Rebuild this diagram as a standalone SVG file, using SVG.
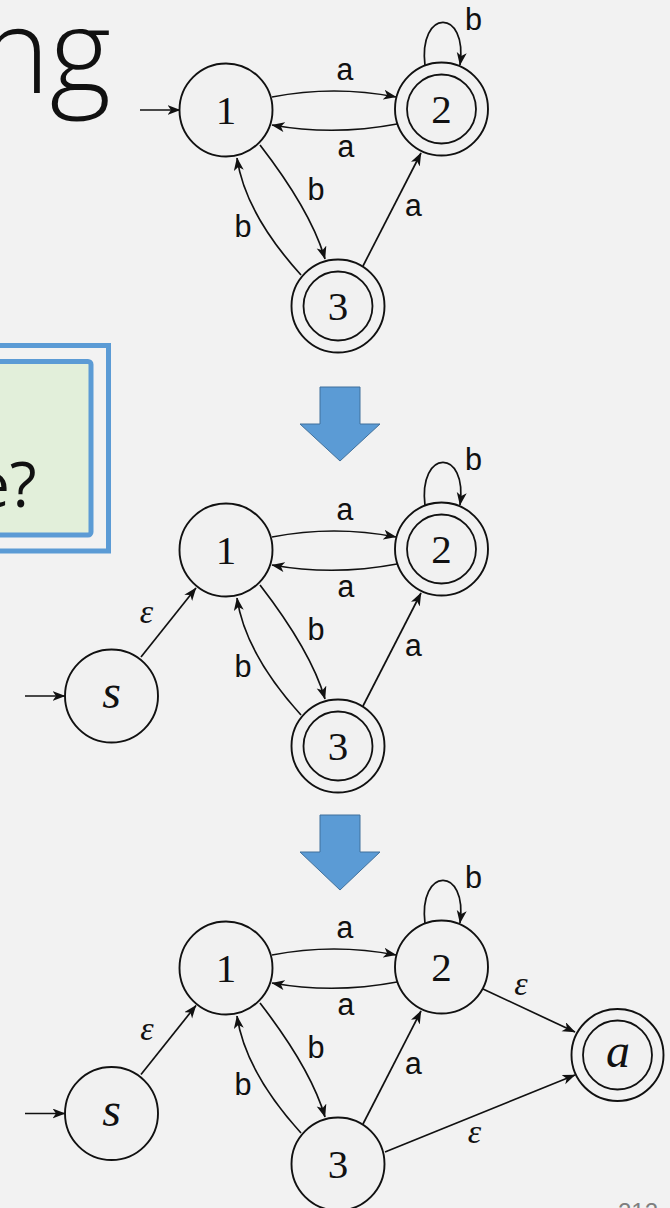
<svg xmlns="http://www.w3.org/2000/svg" width="670" height="1208" viewBox="0 0 670 1208">
<defs>
<style>
.st{fill:#f1f1f1;stroke:#111;stroke-width:1.9}
.in{fill:none;stroke:#111;stroke-width:1.8}
.e{fill:none;stroke:#111;stroke-width:1.7;marker-end:url(#ah)}
.num{font-family:"Liberation Serif",serif;font-size:41px;fill:#111;text-anchor:middle}
.var{font-family:"Liberation Serif",serif;font-style:italic;font-size:48px;fill:#111;text-anchor:middle}
.lb{font-family:"Liberation Mono",monospace;font-size:31px;fill:#111;text-anchor:middle}
.ep{font-family:"Liberation Serif",serif;font-style:italic;font-size:34px;fill:#111;text-anchor:middle}
.big{fill:#5b9bd5;stroke:#41719c;stroke-width:1}
</style>
<marker id="ah" markerUnits="userSpaceOnUse" markerWidth="14" markerHeight="11" refX="12.5" refY="5" orient="auto">
<path d="M0,0 L13,5 L0,10 L3.5,5 Z" fill="#111"/>
</marker>
</defs>
<rect width="670" height="1208" fill="#f2f2f2"/>
<text x="111" y="93" font-family="'Open Sans',sans-serif" font-weight="300" font-size="118" text-anchor="end" fill="#111">ng</text>
<g id="box">
<rect x="-10" y="345.5" width="118.5" height="205.5" fill="none" stroke="#5b9bd5" stroke-width="5"/>
<rect x="-10" y="361.5" width="101" height="173.5" rx="3" fill="#e2efda" stroke="#5b9bd5" stroke-width="5"/>
<text x="-25" y="507" font-family="'Open Sans',sans-serif" font-size="62" fill="#111">e?</text>
</g>
<g id="arrow1"><path class="big" d="M320,387 L360,387 L360,424 L380,424 L340,461 L300,424 L320,424 Z"/></g>
<g id="arrow2"><path class="big" d="M320,815 L360,815 L360,852 L380,852 L340,890 L300,852 L320,852 Z"/></g>

<g id="connectors">
<path class="e" d="M140,110 L180,110"/>
<path class="e" d="M272,97 Q334,85 396,97"/>
<path class="e" d="M397,124 Q334,136 272,125"/>
<path class="e" d="M425,66 C418,8 468,8 460,65"/>
<path class="e" d="M260,145 Q311,211 325,259"/>
<path class="e" d="M301,275 Q245,213 237,158"/>
<path class="e" d="M363,266 L421,153"/>
<path class="e" d="M25,696 L65,696"/>
<path class="e" d="M141,657 L196,588"/>
<path class="e" d="M272,537 Q334,525 396,537"/>
<path class="e" d="M397,564 Q334,576 272,565"/>
<path class="e" d="M425,506 C418,448 468,448 460,505"/>
<path class="e" d="M260,585 Q311,651 325,699"/>
<path class="e" d="M301,715 Q245,653 237,598"/>
<path class="e" d="M363,706 L421,593"/>
<path class="e" d="M25,1113.5 L65,1113.5"/>
<path class="e" d="M141,1074.5 L196,1005.5"/>
<path class="e" d="M272,955 Q334,943 396,955"/>
<path class="e" d="M397,982 Q334,994 272,983"/>
<path class="e" d="M425,924 C418,866 468,866 460,923"/>
<path class="e" d="M260,1003 Q311,1069 325,1117"/>
<path class="e" d="M301,1133 Q245,1071 237,1016"/>
<path class="e" d="M363,1124 L421,1011"/>
<path class="e" d="M483,989 L575,1032"/>
<path class="e" d="M385,1152 L575,1075"/>
<text class="lb" x="345" y="80">a</text>
<text class="lb" x="346" y="157">a</text>
<text class="lb" x="473.5" y="30">b</text>
<text class="lb" x="316" y="200">b</text>
<text class="lb" x="243" y="237">b</text>
<text class="lb" x="413.5" y="216">a</text>
<text class="lb" x="345" y="520">a</text>
<text class="lb" x="346" y="597">a</text>
<text class="lb" x="473.5" y="470">b</text>
<text class="lb" x="316" y="640">b</text>
<text class="lb" x="243" y="677">b</text>
<text class="lb" x="413.5" y="656">a</text>
<text class="ep" x="146.5" y="623">ε</text>
<text class="lb" x="345" y="938">a</text>
<text class="lb" x="346" y="1015">a</text>
<text class="lb" x="473.5" y="888">b</text>
<text class="lb" x="316" y="1058">b</text>
<text class="lb" x="243" y="1095">b</text>
<text class="lb" x="413.5" y="1074">a</text>
<text class="ep" x="147" y="1040">ε</text>
<text class="ep" x="521" y="995">ε</text>
<text class="ep" x="474.5" y="1143">ε</text>
</g>

<g id="t1"><circle class="st" cx="226" cy="110" r="46.5"/><text class="num" x="226" y="124">1</text></g>
<g id="t2"><circle class="st" cx="441.5" cy="109" r="46.5"/><circle class="in" cx="441.5" cy="109" r="34.5"/><text class="num" x="441.5" y="123">2</text></g>
<g id="t3"><circle class="st" cx="338" cy="306" r="46.5"/><circle class="in" cx="338" cy="306" r="34.5"/><text class="num" x="338" y="320">3</text></g>

<g id="m1"><circle class="st" cx="226" cy="550" r="46.5"/><text class="num" x="226" y="564">1</text></g>
<g id="m2"><circle class="st" cx="441.5" cy="549" r="46.5"/><circle class="in" cx="441.5" cy="549" r="34.5" stroke-width="2.5"/><text class="num" x="441.5" y="563">2</text></g>
<g id="m3"><circle class="st" cx="338" cy="746" r="46.5"/><circle class="in" cx="338" cy="746" r="34.5"/><text class="num" x="338" y="760">3</text></g>
<g id="ms"><circle class="st" cx="111.5" cy="696" r="46.5"/><text class="var" x="111.5" y="708">s</text></g>

<g id="b1"><circle class="st" cx="226" cy="968" r="46.5"/><text class="num" x="226" y="982">1</text></g>
<g id="b2"><circle class="st" cx="441.5" cy="967" r="46.5"/><text class="num" x="441.5" y="981">2</text></g>
<g id="b3"><circle class="st" cx="338" cy="1164" r="46.5"/><text class="num" x="338" y="1178">3</text></g>
<g id="bs"><circle class="st" cx="111.5" cy="1113.5" r="46.5"/><text class="var" x="111.5" y="1125.5">s</text></g>
<g id="ba"><circle class="st" cx="617.5" cy="1055" r="46"/><circle class="in" cx="617.5" cy="1055" r="34.5"/><text class="var" x="618" y="1067">a</text></g>

<text x="618" y="1220" font-family="'Liberation Sans',sans-serif" font-size="24" fill="#7f7f7f">212</text>
</svg>
